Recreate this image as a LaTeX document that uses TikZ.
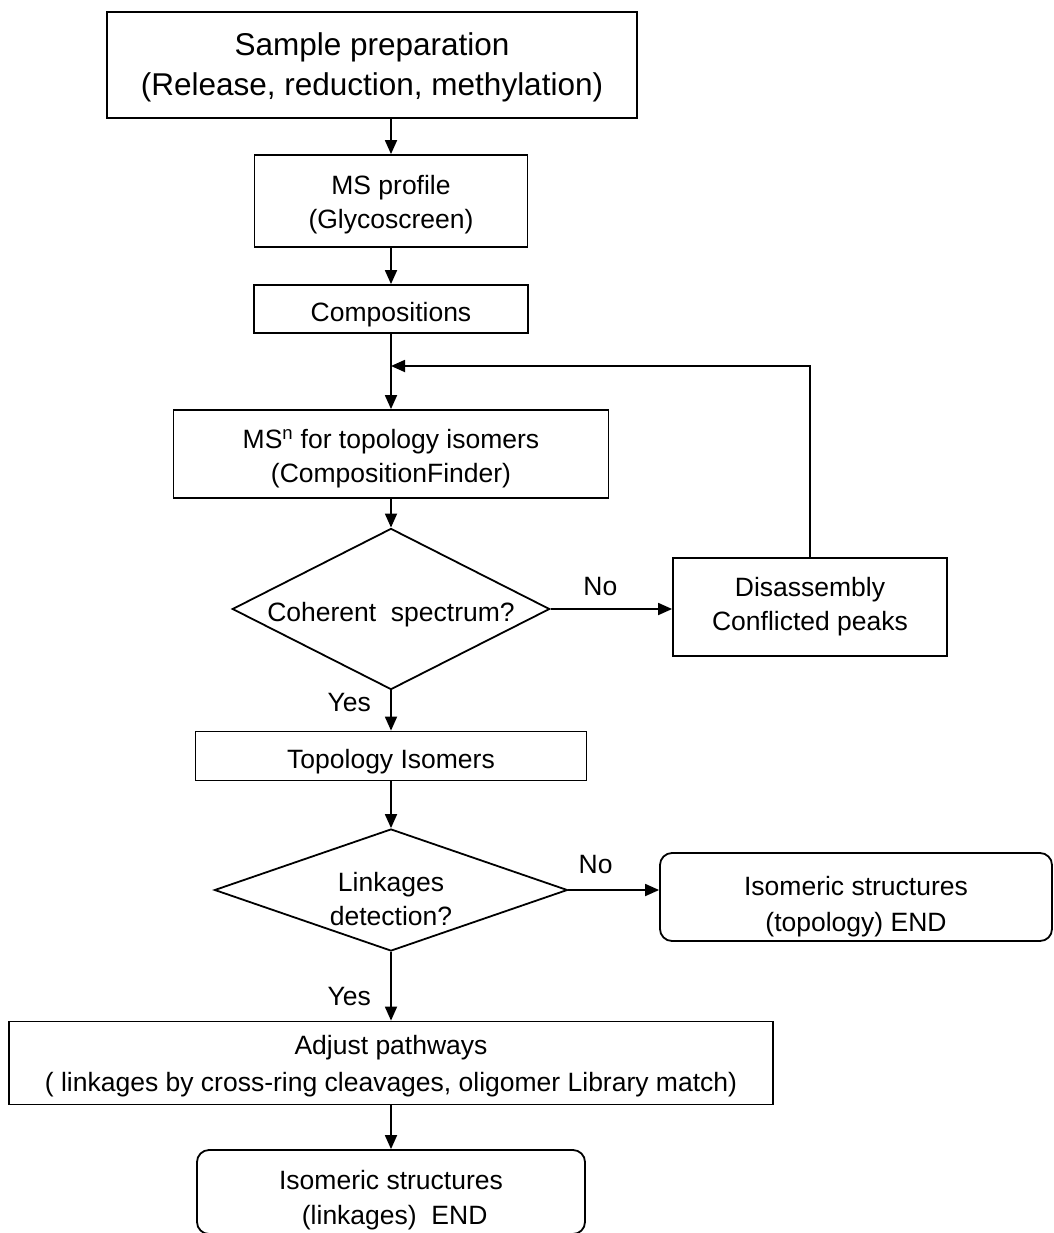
\documentclass[tikz,border=0pt]{standalone}
\usepackage{fontspec}
\setmainfont{Liberation Sans}
\usetikzlibrary{shapes,arrows.meta,positioning}

\begin{document}
\begin{tikzpicture}[x=1pt, y=-1pt,
    box/.style={draw, line width=1.8pt, rectangle, align=center, inner sep=0pt, font=\fontsize{26.5}{34}\selectfont, execute at begin node=\rule{0pt}{30pt}},
    endbox/.style={box, rounded corners=12pt},
    decision/.style={draw, line width=1.8pt, diamond, align=center, inner sep=0pt, font=\fontsize{26.5}{34}\selectfont, execute at begin node=\rule{0pt}{30pt}},
    tshift/.style={execute at begin node=\rule{0pt}{#1}},
    arrow/.style={-{Triangle[length=14pt,width=12pt]}, line width=1.8pt},
    lbl/.style={font=\fontsize{26.5}{30}\selectfont}
]
\useasboundingbox (0,0) rectangle (1053,1233);

\node[box, minimum width=530pt, minimum height=106pt, font=\fontsize{31.5}{40}\selectfont, tshift=68pt] (samp) at (372,65) {Sample preparation\\(Release, reduction, methylation)};
\node[box, minimum width=273pt, minimum height=92pt, tshift=61pt] (prof) at (391,201) {MS profile\\(Glycoscreen)};
\node[box, minimum width=274pt, minimum height=48pt] (comp) at (391,309) {Compositions};
\node[box, minimum width=435pt, minimum height=88pt, tshift=63pt] (msn) at (391,454) {MS\textsuperscript{n} for topology isomers\\(CompositionFinder)};
\node[decision, aspect=1.97, minimum width=312pt, minimum height=158pt] (coh) at (391,609) {Coherent\ \ spectrum?};
\node[box, minimum width=274pt, minimum height=98pt, execute at begin node={}] (dis) at (810,607) {Disassembly\\Conflicted peaks};
\node[box, minimum width=391pt, minimum height=49pt] (topo) at (391,756) {Topology Isomers};
\node[decision, aspect=3, minimum width=353pt, minimum height=122pt, inner sep=-6pt, tshift=71pt] (link) at (391,890) {Linkages\\detection?};
\node[endbox, minimum width=392pt, minimum height=88pt, font=\fontsize{26.5}{36}\selectfont, tshift=75pt] (topend) at (856,897) {Isomeric structures\\(topology) END};
\node[box, minimum width=764pt, minimum height=83pt, font=\fontsize{26.5}{37}\selectfont, tshift=62pt] (adj) at (391,1063) {Adjust pathways\\( linkages by cross-ring cleavages, oligomer Library match)};
\node[endbox, minimum width=388pt, minimum height=84pt, font=\fontsize{26.5}{35}\selectfont, tshift=71pt] (linkend) at (391,1192) {Isomeric structures\\\ (linkages)\ \ END};

\coordinate (join) at (391,366);

\draw[arrow] (samp.south -| prof.north) -- (prof);
\draw[arrow] (prof) -- (comp);
\draw[arrow] (comp) -- (msn);
\draw[arrow] (msn) -- (coh);
\draw[arrow] (coh) -- (coh.east -| dis.west) node[lbl, pos=0.41, above=9pt] {No};
\draw[arrow] (dis.north) |- (join);
\draw[arrow] (coh) -- (topo) node[lbl, pos=0.3, left=16pt] {Yes};
\draw[arrow] (topo) -- (link);
\draw[arrow] (link) -- (link.east -| topend.west) node[lbl, pos=0.3, above=12pt] {No};
\draw[arrow] (link) -- (adj) node[lbl, pos=0.65, left=16pt] {Yes};
\draw[arrow] (adj) -- (linkend);

\end{tikzpicture}
\end{document}
